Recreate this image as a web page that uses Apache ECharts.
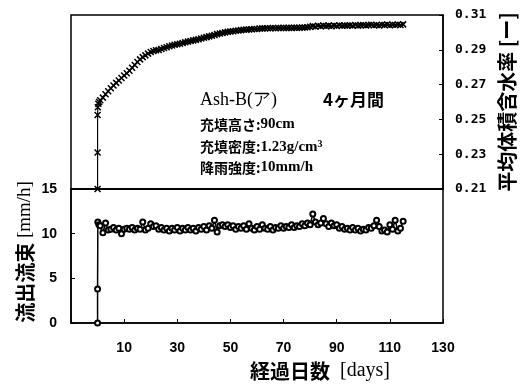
<!DOCTYPE html>
<html>
<head>
<meta charset="utf-8">
<script src="https://cdn.jsdelivr.net/npm/echarts@6/dist/echarts.min.js"></script>
<style>
  html, body { margin: 0; padding: 0; background: #fff; }
  #chart { width: 521px; height: 389px; }
</style>
</head>
<body>
<div id="chart"></div>
<script>
// Elapsed days and mean volumetric water content (upper panel, x markers)
const thetaDays = [
  0, 0, 0, 0.1, 0.3, 0.6,
  1, 2, 3, 4, 5, 6, 7, 8, 9, 10,
  11, 12, 13, 14, 15, 16, 17, 18, 19, 20,
  21, 22, 23, 24, 25, 26, 27, 28, 29, 30,
  31, 32, 33, 34, 35, 36, 37, 38, 39, 40,
  41, 42, 43, 44, 45, 46, 47, 48, 49, 50,
  51, 52, 53, 54, 55, 56, 57, 58, 59, 60,
  61, 62, 63, 64, 65, 66, 67, 68, 69, 70,
  71, 72, 73, 74, 75, 76, 77, 78, 79, 80,
  81, 82, 83, 84, 85, 86, 87, 88, 89, 90,
  91, 92, 93, 94, 95, 96, 97, 98, 99, 100,
  101, 102, 103, 104, 105, 106, 107, 108, 109, 110,
  111, 112, 113, 114, 115
];
const thetaValues = [
  0.210, 0.231, 0.2525, 0.257, 0.259, 0.260,
  0.2610, 0.2625, 0.2645, 0.2662, 0.2679, 0.2695, 0.2710, 0.2724, 0.2738, 0.2752,
  0.2765, 0.2780, 0.2797, 0.2813, 0.2830, 0.2845, 0.2858, 0.2868, 0.2878, 0.2887,
  0.2893, 0.2897, 0.2899, 0.2905, 0.2910, 0.2915, 0.2920, 0.2925, 0.2929, 0.2932,
  0.2935, 0.2939, 0.2943, 0.2947, 0.2951, 0.2954, 0.2957, 0.2961, 0.2965, 0.2969,
  0.2973, 0.2977, 0.2981, 0.2985, 0.2990, 0.2994, 0.2997, 0.3000, 0.3003, 0.3005,
  0.3007, 0.3009, 0.3011, 0.3013, 0.3015, 0.3016, 0.3017, 0.3018, 0.3019, 0.3020,
  0.3022, 0.3023, 0.3023, 0.3024, 0.3024, 0.3025, 0.3024, 0.3025, 0.3025, 0.3026,
  0.3025, 0.3026, 0.3026, 0.3027, 0.3026, 0.3027, 0.3028, 0.3028, 0.3030, 0.3032,
  0.3036, 0.3033, 0.3038, 0.3035, 0.3040, 0.3036, 0.3039, 0.3035, 0.3040, 0.3037,
  0.3041, 0.3038, 0.3040, 0.3039, 0.3041, 0.3038, 0.3042, 0.3039, 0.3041, 0.3043,
  0.3040, 0.3042, 0.3044, 0.3041, 0.3043, 0.3040, 0.3044, 0.3042, 0.3045, 0.3041,
  0.3044, 0.3042, 0.3045, 0.3043, 0.3046
];

// Elapsed days and outflow flux in mm/h (lower panel, open circles)
const fluxDays = [
  0, 0, 0.1, 0.5,
  1, 2, 3, 4, 5, 6, 7, 8, 9, 10,
  11, 12, 13, 14, 15, 16, 17, 18, 19, 20,
  21, 22, 23, 24, 25, 26, 27, 28, 29, 30,
  31, 32, 33, 34, 35, 36, 37, 38, 39, 40,
  41, 42, 43, 44, 45, 46, 47, 48, 49, 50,
  51, 52, 53, 54, 55, 56, 57, 58, 59, 60,
  61, 62, 63, 64, 65, 66, 67, 68, 69, 70,
  71, 72, 73, 74, 75, 76, 77, 78, 79, 80,
  81, 82, 83, 84, 85, 86, 87, 88, 89, 90,
  91, 92, 93, 94, 95, 96, 97, 98, 99, 100,
  101, 102, 103, 104, 105, 106, 107, 108, 109, 110,
  111, 112, 113, 114, 115
];
const fluxValues = [
  0, 3.8, 11.3, 11.0,
  10.9, 10.1, 11.2, 10.4, 10.5, 10.7, 10.4, 10.6, 10.0, 10.5,
  10.6, 10.5, 10.7, 10.4, 10.6, 10.5, 11.3, 10.4, 10.6, 11.1,
  10.8, 10.9, 10.5, 10.7, 10.4, 10.6, 10.3, 10.6, 10.4, 10.7,
  10.3, 10.6, 10.4, 10.7, 10.4, 10.6, 10.3, 10.7, 10.5, 10.8,
  10.4, 10.9, 10.6, 11.5, 10.2, 10.9, 11.0, 10.8, 11.0, 10.7,
  10.9, 10.5, 10.8, 10.6, 10.9, 10.5, 11.1, 10.6, 10.4, 10.8,
  10.5, 11.0, 10.6, 10.5, 10.8, 10.4, 10.7, 10.6, 10.9, 10.6,
  10.8, 10.7, 11.0, 10.7, 10.9, 10.8, 11.1, 10.9, 11.2, 11.0,
  12.2, 11.3, 11.0, 11.2, 11.7, 11.1, 10.8, 11.2, 10.9, 11.0,
  10.6, 10.8, 10.5, 10.6, 10.4, 10.7, 10.4, 10.6, 10.3, 10.5,
  10.4, 10.7, 10.6, 10.9, 11.5, 10.8, 10.3, 10.4, 10.2, 11.0,
  10.5, 11.5, 10.3, 10.6, 11.4
];

// Axis ranges and tick steps
const dayRange = [-10, 130, 20];
const thetaRange = [0.21, 0.31, 0.02];
const fluxRange = [0, 15, 5];

const pair = (xs, ys) => xs.map((x, i) => [x, ys[i]]);

const CJK = '"Noto Sans CJK JP", sans-serif';
const SERIF = '"Liberation Serif", serif';
const NUM = '"Liberation Sans", sans-serif';

const frame = { show: true, onZero: false, lineStyle: { color: '#000', width: 1.5 } };
const inTick = { show: true, inside: true, length: 4, lineStyle: { color: '#000', width: 1 } };

const chart = echarts.init(document.getElementById('chart'), null, { renderer: 'canvas' });

chart.setOption({
  animation: false,
  backgroundColor: '#fff',
  grid: [
    { left: 71, top: 15, width: 372, height: 174, show: true, borderColor: '#000', borderWidth: 1.5, backgroundColor: 'transparent' },
    { left: 71, top: 189, width: 372, height: 134, show: true, borderColor: '#000', borderWidth: 1.5, backgroundColor: 'transparent' }
  ],
  xAxis: [
    {
      gridIndex: 0, type: 'value',
      min: dayRange[0], max: dayRange[1], interval: dayRange[2],
      axisLine: frame, axisTick: { show: false }, axisLabel: { show: false }, splitLine: { show: false }
    },
    {
      gridIndex: 1, type: 'value',
      min: dayRange[0], max: dayRange[1], interval: dayRange[2],
      axisLine: frame, axisTick: inTick, splitLine: { show: false },
      axisLabel: {
        margin: 18, color: '#000', fontFamily: NUM, fontWeight: 'bold', fontSize: 14,
        formatter: v => (v < 0 ? '' : String(v))
      }
    }
  ],
  yAxis: [
    {
      gridIndex: 0, type: 'value', position: 'right',
      min: thetaRange[0], max: thetaRange[1], interval: thetaRange[2],
      axisLine: frame, axisTick: inTick, splitLine: { show: false },
      axisLabel: {
        margin: 12, color: '#000', fontFamily: '"DejaVu Sans Mono", monospace', fontWeight: 'bold', fontSize: 13,
        formatter: v => v.toFixed(2)
      }
    },
    {
      gridIndex: 1, type: 'value', position: 'left',
      min: fluxRange[0], max: fluxRange[1], interval: fluxRange[2],
      axisLine: frame, axisTick: inTick, splitLine: { show: false },
      axisLabel: {
        margin: 14, color: '#000', fontFamily: NUM, fontWeight: 'bold', fontSize: 14
      }
    }
  ],
  series: [
    {
      type: 'line', xAxisIndex: 0, yAxisIndex: 0,
      data: pair(thetaDays, thetaValues),
      showAllSymbol: true,
      symbol: 'path://M0,0L10,10M0,10L10,0',
      symbolSize: 6,
      lineStyle: { color: '#000', width: 1.2 },
      itemStyle: { color: '#000', borderColor: '#000', borderWidth: 1.5 }
    },
    {
      type: 'line', xAxisIndex: 1, yAxisIndex: 1,
      data: pair(fluxDays, fluxValues),
      showAllSymbol: true,
      symbol: 'emptyCircle',
      symbolSize: 5,
      lineStyle: { color: '#000', width: 1.5 },
      itemStyle: { color: '#000', borderColor: '#000', borderWidth: 1.5 }
    }
  ],
  graphic: [
    {
      type: 'text', left: 200, top: 91,
      style: {
        text: '{a|Ash-B(ア)}{b|4ヶ月間}',
        rich: {
          a: { fontFamily: SERIF, fontSize: 18, fill: '#000' },
          b: { fontFamily: CJK, fontWeight: 'bold', fontSize: 17, fill: '#000', padding: [0, 0, 0, 46] }
        }
      }
    },
    {
      type: 'text', left: 200, top: 117,
      style: {
        text: '{a|充填高さ:}{b|90cm}',
        rich: {
          a: { fontFamily: CJK, fontWeight: 'bold', fontSize: 14, fill: '#000' },
          b: { fontFamily: SERIF, fontWeight: 'bold', fontSize: 15, fill: '#000' }
        }
      }
    },
    {
      type: 'text', left: 200, top: 139,
      style: {
        text: '{a|充填密度:}{b|1.23g/cm}{s|3}',
        rich: {
          a: { fontFamily: CJK, fontWeight: 'bold', fontSize: 14, fill: '#000' },
          b: { fontFamily: SERIF, fontWeight: 'bold', fontSize: 15, fill: '#000' },
          s: { fontFamily: SERIF, fontWeight: 'bold', fontSize: 10, fill: '#000', verticalAlign: 'top', padding: [0, 0, 6, 0] }
        }
      }
    },
    {
      type: 'text', left: 200, top: 160,
      style: {
        text: '{a|降雨強度:}{b|10mm/h}',
        rich: {
          a: { fontFamily: CJK, fontWeight: 'bold', fontSize: 14, fill: '#000' },
          b: { fontFamily: SERIF, fontWeight: 'bold', fontSize: 15, fill: '#000' }
        }
      }
    },
    {
      type: 'text', x: 320, y: 371,
      style: {
        text: '{a|経過日数}{b|  [days]}',
        align: 'center', verticalAlign: 'middle',
        rich: {
          a: { fontFamily: CJK, fontWeight: 'bold', fontSize: 20, fill: '#000' },
          b: { fontFamily: SERIF, fontSize: 20, fill: '#000' }
        }
      }
    },
    {
      type: 'text', x: 25, y: 252, rotation: Math.PI / 2,
      style: {
        text: '{a|流出流束}{b| [mm/h]}',
        align: 'center', verticalAlign: 'middle',
        rich: {
          a: { fontFamily: CJK, fontWeight: 'bold', fontSize: 20, fill: '#000' },
          b: { fontFamily: SERIF, fontSize: 19, fill: '#000' }
        }
      }
    },
    {
      type: 'text', x: 507, y: 102, rotation: Math.PI / 2,
      style: {
        text: '{a|平均体積含水率 [ー]}',
        align: 'center', verticalAlign: 'middle',
        rich: {
          a: { fontFamily: CJK, fontWeight: 'bold', fontSize: 20, fill: '#000' }
        }
      }
    }
  ]
});
</script>
</body>
</html>
